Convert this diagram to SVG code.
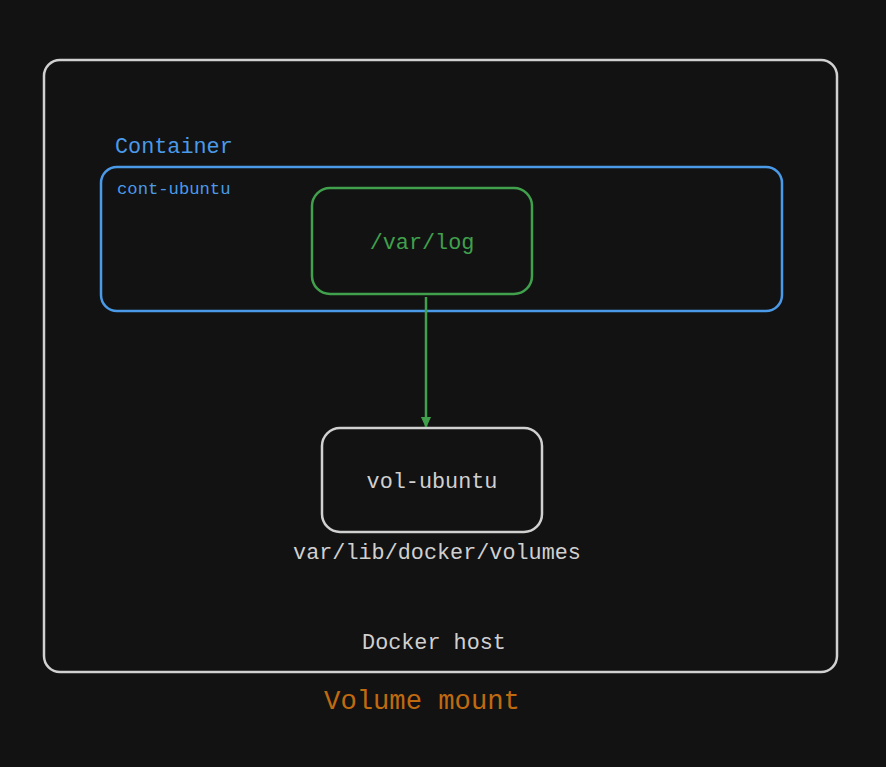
<svg xmlns="http://www.w3.org/2000/svg" width="886" height="767" viewBox="0 0 886 767">
<style>
.t{font-family:"Liberation Mono","DejaVu Sans Mono",monospace;}
.box{fill:none;stroke-width:2.5;}
</style>
<defs>
<marker id="ah" markerWidth="12" markerHeight="10" refX="10" refY="5" orient="auto" markerUnits="userSpaceOnUse" viewBox="0 0 12 10">
<path d="M0,0.5 L10,5 L0,9.5 Z" fill="#40a04c" stroke="#40a04c" stroke-width="1"/>
</marker>
</defs>
<rect width="886" height="767" fill="#121212"/>
<g id="docker-host">
<rect class="box" x="44" y="60" width="793" height="612" rx="16" stroke="#d0d0d0"/>
<text class="t" x="434" y="649" font-size="21.8" fill="#d0d0d0" text-anchor="middle">Docker host</text>
</g>
<g id="title">
<text class="t" x="422" y="709" font-size="27.2" fill="#c06a10" text-anchor="middle">Volume mount</text>
</g>
<g id="container">
<text class="t" x="115" y="153" font-size="21.8" fill="#4a9ae8">Container</text>
<rect class="box" x="101" y="167" width="681" height="144" rx="16" stroke="#4a9ae8"/>
<text class="t" x="117" y="194" font-size="17.2" fill="#4a9ae8">cont-ubuntu</text>
</g>
<g id="var-log">
<rect class="box" x="312" y="188" width="220" height="106" rx="18" stroke="#40a04c"/>
<text class="t" x="422" y="249" font-size="21.8" fill="#40a04c" text-anchor="middle">/var/log</text>
</g>
<g id="vol-ubuntu">
<rect class="box" x="322" y="428" width="220" height="104" rx="18" stroke="#d0d0d0"/>
<text class="t" x="432" y="488" font-size="21.8" fill="#d0d0d0" text-anchor="middle">vol-ubuntu</text>
<text class="t" x="437" y="559" font-size="21.8" fill="#d0d0d0" text-anchor="middle">var/lib/docker/volumes</text>
</g>
<g id="connectors">
<line x1="426" y1="297" x2="426" y2="427" stroke="#40a04c" stroke-width="2.5" marker-end="url(#ah)"/>
</g>
</svg>
